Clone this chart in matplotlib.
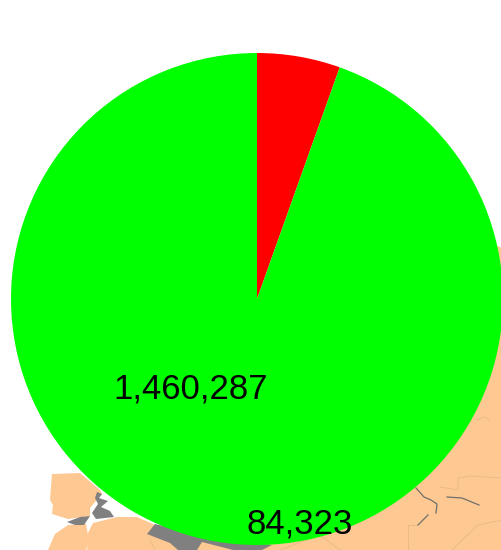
#!/usr/bin/env python3
# -*- coding: utf-8 -*-
import matplotlib
matplotlib.use("Agg")
import matplotlib.pyplot as plt
from matplotlib.patches import Polygon

plt.rcParams['font.family'] = ['Liberation Sans', 'DejaVu Sans']

# pie values and their labels
values = [84323, 1460287]
labels = ["84,323", "1,460,287"]
colors = ["#ff0000", "#00ff00"]

# background map, in picture pixels
land_color = "#fec892"
water_color = "#808080"
land_shapes = [
    [(52, 474), (80, 473), (100, 490), (102, 494), (95, 502), (90, 508), (90, 516),
     (68, 519), (52, 514), (53, 505), (50, 500)],
    [(48, 550), (55, 534), (68, 525), (86, 524), (89, 540), (86, 550)],
    [(87, 550), (88, 533), (93, 523), (117, 517), (137, 517), (155, 525), (200, 530),
     (420, 480), (495, 245), (502, 248), (502, 550)],
]
gray_shapes = [
    [(97, 492), (102, 494), (99, 498), (108, 501), (101, 507), (110, 511), (114, 517),
     (96, 519), (92, 513), (98, 504), (95, 498)],
    [(67, 522), (80, 517), (90, 516), (84, 525), (85, 525), (75, 525)],
    [(155, 524), (147, 534), (170, 543), (178, 550), (197, 550), (202, 542), (233, 550),
     (262, 550), (272, 545), (200, 535)],
]
river_lines = [
    [(416, 488), (424, 497), (431, 500), (437, 504), (436, 513)],
    [(418, 525), (428, 515)],
    [(447, 497), (462, 498), (479, 505)],
]
border_lines = [
    [(458, 478), (470, 476), (502, 478)],
    [(440, 487), (458, 490), (458, 478)],
    [(408, 550), (408, 525), (418, 525)],
    [(452, 550), (478, 525), (502, 520)],
    [(476, 420), (484, 417), (490, 420)],
    [(155, 550), (150, 540)],
    [(280, 550), (320, 535), (340, 550)],
]


def main():
    fig = plt.figure(figsize=(5.02, 5.5), dpi=100)
    ax = fig.add_axes([0, 0, 1, 1])

    for pts in land_shapes:
        ax.add_patch(Polygon([(x, 550 - y) for x, y in pts], fc=land_color, ec="none", zorder=1))
    for pts in gray_shapes:
        ax.add_patch(Polygon([(x, 550 - y) for x, y in pts], fc=water_color, ec="none", zorder=2))
    for pts in border_lines:
        ax.plot([p[0] for p in pts], [550 - p[1] for p in pts], color="#e8b888", lw=0.6, zorder=2)
    for pts in river_lines:
        ax.plot([p[0] for p in pts], [550 - p[1] for p in pts], color="#70706a", lw=0.9, zorder=2)

    wedges, _ = ax.pie(values, colors=colors, startangle=90, counterclock=False,
                       center=(257, 251), radius=246, frame=True)
    for w in wedges:
        w.set_zorder(3)

    ax.text(300, 26, labels[0], fontsize=25, ha="center", va="center", color="black", zorder=4)
    ax.text(191, 389, "", fontsize=1)
    ax.text(191, 161, labels[1], fontsize=25, ha="center", va="center", color="black", zorder=4)

    ax.set_xlim(0, 502)
    ax.set_ylim(0, 550)
    ax.set_aspect("equal")
    ax.axis("off")
    fig.savefig("out.png", dpi=100, facecolor="white")


if __name__ == "__main__":
    main()
